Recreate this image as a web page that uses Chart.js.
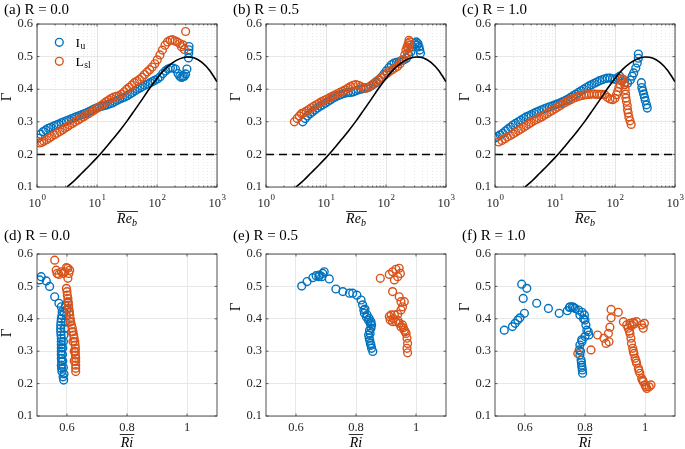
<!DOCTYPE html>
<html>
<head>
<meta charset="utf-8">
<script src="https://cdn.jsdelivr.net/npm/chart.js@4.4.0/dist/chart.umd.min.js"></script>
<style>
  body { margin: 0; background: #fff; }
  #fig { position: relative; width: 685px; height: 449px; overflow: hidden; background: #fff; }
  #fig canvas { position: absolute; }
</style>
</head>
<body>
<div id="fig">
  <canvas id="pa" width="230" height="228" style="left:0;top:0"></canvas>
  <canvas id="pb" width="230" height="228" style="left:229px;top:0"></canvas>
  <canvas id="pc" width="230" height="228" style="left:458px;top:0"></canvas>
  <canvas id="pd" width="230" height="224" style="left:0;top:225px"></canvas>
  <canvas id="pe" width="230" height="224" style="left:229px;top:225px"></canvas>
  <canvas id="pf" width="230" height="224" style="left:458px;top:225px"></canvas>
</div>
<script>
// axis ticks / reference values
const yTicks = [0.1, 0.2, 0.3, 0.4, 0.5, 0.6];
const decades = [1, 10, 100, 1000];
const riTicks = [0.6, 0.8, 1];
const refLevel = 0.2;

// black model curve, [Re_b, Gamma]
const curve = [[3.16,.10],[4.22,.12],[5.62,.143],[7.5,.166],[10,.19],[13.3,.216],[17.8,.244],[23.7,.272],[31.6,.302],[42.2,.335],[56.2,.368],[75,.402],[100,.433],[133,.46],[178,.48],[237,.493],[316,.499],[422,.496],[562,.482],[750,.458],[1000,.423]];

// (a) R = 0.0, [Re_b, Gamma]
const aIu = [[1.05,.25],[1.15,.262],[1.27,.27],[1.4,.275],[1.55,.28],[1.7,.283],[1.9,.287],[2.1,.29],[2.3,.293],[2.55,.297],[2.8,.30],[3.1,.303],[3.4,.306],[3.8,.31],[4.2,.313],[4.6,.316],[5.1,.319],[5.6,.322],[6.2,.325],[6.8,.328],[7.5,.332],[8.3,.336],[9.1,.34],[10,.343],[11,.346],[12.2,.348],[13.4,.35],[14.8,.352],[16.3,.355],[18,.358],[19.8,.362],[21.8,.366],[24,.37],[26.5,.373],[29,.376],[32,.38],[35.5,.385],[39,.39],[43,.395],[47,.40],[52,.404],[57,.408],[63,.412],[70,.416],[77,.42],[85,.424],[93,.428],[103,.432],[113,.438],[125,.448],[138,.456],[152,.462],[167,.465],[184,.465],[203,.462],[224,.448],[240,.44],[255,.436],[270,.438],[285,.44],[300,.447],[315,.462],[335,.496],[338,.511],[340,.521],[342,.531]];
const aLsl = [[1.1,.235],[1.2,.237],[1.3,.24],[1.45,.245],[1.6,.25],[1.75,.255],[1.95,.26],[2.15,.265],[2.4,.27],[2.65,.275],[2.9,.28],[3.2,.285],[3.5,.29],[3.9,.295],[4.3,.30],[4.8,.305],[5.3,.31],[5.9,.315],[6.5,.32],[7.2,.325],[8,.33],[8.8,.335],[9.7,.34],[10.7,.345],[11.8,.35],[13,.356],[14.3,.362],[15.8,.367],[17.4,.372],[19.2,.376],[21.2,.378],[23.4,.38],[25.8,.385],[28.5,.392],[31.4,.40],[34.6,.406],[38.2,.413],[42,.42],[46.4,.425],[51,.43],[56.3,.437],[62,.445],[68.5,.453],[75.5,.46],[83,.468],[92,.478],[101,.49],[112,.505],[123,.52],[136,.535],[150,.545],[165,.55],[180,.552],[198,.548],[218,.545],[240,.54],[255,.53],[270,.536],[285,.522],[300,.577]];

// (b) R = 0.5
const bIu = [[4.1,.30],[4.5,.31],[4.9,.318],[5.4,.325],[5.9,.33],[6.5,.336],[7.2,.342],[8,.348],[8.8,.352],[9.7,.357],[10.7,.362],[11.8,.367],[13,.372],[14.3,.376],[15.8,.38],[17.4,.383],[19.2,.386],[21.2,.388],[23.4,.39],[25.8,.39],[28.5,.392],[31.4,.395],[34.6,.398],[38.2,.40],[42,.402],[46.4,.404],[51,.406],[56.3,.41],[62,.415],[68.5,.42],[75.5,.428],[83,.436],[92,.446],[101,.456],[112,.466],[123,.475],[136,.48],[150,.482],[165,.484],[182,.488],[200,.49],[220,.495],[240,.505],[260,.515],[280,.53],[300,.54],[320,.545],[340,.54],[355,.53],[365,.52],[375,.51],[330,.535]];
const bLsl = [[2.97,.30],[3.3,.31],[3.6,.318],[3.9,.325],[4.3,.328],[4.7,.333],[5.2,.338],[5.7,.343],[6.3,.348],[7,.353],[7.7,.357],[8.5,.362],[9.4,.366],[10.4,.37],[11.5,.374],[12.7,.378],[14,.382],[15.5,.386],[17.1,.39],[19,.394],[21,.398],[23.2,.403],[25.6,.408],[28.3,.412],[31.3,.414],[34.6,.412],[38.2,.408],[42.2,.404],[46.6,.403],[51.5,.406],[57,.412],[63,.418],[69.6,.424],[77,.43],[85,.436],[94,.442],[104,.448],[115,.455],[127,.46],[140,.465],[155,.47],[171,.478],[189,.49],[205,.505],[215,.52],[225,.53],[235,.54],[242,.55],[248,.545],[238,.525],[228,.51],[245,.535]];

// (c) R = 1.0
const cIu = [[1.0,.25],[1.1,.255],[1.22,.26],[1.35,.265],[1.5,.272],[1.65,.278],[1.82,.284],[2.0,.29],[2.2,.295],[2.45,.30],[2.7,.305],[3.0,.31],[3.3,.315],[3.65,.318],[4.0,.322],[4.45,.326],[4.9,.33],[5.4,.333],[6.0,.337],[6.6,.34],[7.3,.343],[8.1,.346],[9.0,.349],[10,.352],[11,.355],[12.2,.358],[13.5,.362],[15,.366],[16.5,.37],[18.3,.375],[20.2,.38],[22.4,.385],[24.7,.39],[27.3,.395],[30.2,.40],[33.4,.405],[36.9,.41],[40.8,.414],[45.1,.418],[49.9,.422],[55.2,.426],[61,.429],[67.5,.432],[74.6,.434],[82.5,.434],[91.2,.432],[101,.43],[110,.435],[120,.44],[130,.425],[145,.42],[162,.418],[180,.428],[193,.44],[205,.45],[222,.465],[235,.48],[245,.495],[245,.508],[275,.42],[280,.405],[290,.395],[300,.385],[310,.375],[320,.365],[335,.352],[345,.342]];
const cLsl = [[1.15,.238],[1.3,.243],[1.45,.248],[1.6,.253],[1.8,.258],[2.0,.263],[2.2,.268],[2.45,.273],[2.7,.278],[3.0,.283],[3.3,.288],[3.65,.293],[4.0,.298],[4.45,.303],[4.9,.307],[5.4,.311],[6.0,.315],[6.6,.32],[7.3,.325],[8.1,.33],[9.0,.335],[10,.34],[11,.345],[12.2,.35],[13.5,.355],[15,.36],[16.5,.364],[18.3,.368],[20.2,.372],[22.4,.375],[24.7,.378],[27.3,.38],[30.2,.382],[33.4,.383],[36.9,.384],[40.8,.385],[45.1,.385],[49.9,.384],[55.2,.384],[61,.384],[67.5,.383],[74.6,.375],[82.5,.37],[91.2,.368],[100,.372],[106,.383],[111,.393],[116,.405],[122,.415],[128,.425],[130,.432],[138,.43],[145,.414],[148,.398],[150,.385],[152,.373],[155,.363],[160,.35],[162,.337],[166,.327],[170,.315],[178,.303],[186,.292]];

// (d) R = 0.0, [Ri, Gamma]
const dIu = [[.509,.52],[.514,.53],[.531,.517],[.542,.50],[.559,.468],[.573,.448],[.581,.437],[.584,.422],[.583,.41],[.581,.40],[.58,.39],[.579,.38],[.579,.37],[.579,.36],[.58,.35],[.581,.34],[.581,.33],[.581,.32],[.581,.31],[.581,.30],[.581,.29],[.581,.278],[.582,.268],[.581,.257],[.582,.247],[.583,.237],[.587,.221],[.589,.211],[.59,.23],[.588,.25],[.586,.27],[.585,.29],[.586,.31],[.588,.33],[.59,.35],[.592,.37],[.595,.39],[.598,.41],[.60,.43],[.602,.45],[.595,.44],[.59,.42]];
const dLsl = [[.559,.581],[.564,.55],[.567,.54],[.573,.537],[.581,.545],[.587,.54],[.592,.545],[.598,.558],[.603,.556],[.609,.55],[.606,.54],[.603,.525],[.598,.494],[.60,.484],[.601,.473],[.603,.463],[.603,.453],[.605,.442],[.606,.432],[.608,.422],[.609,.412],[.611,.40],[.612,.391],[.615,.381],[.618,.371],[.62,.36],[.622,.35],[.624,.34],[.626,.329],[.627,.319],[.628,.309],[.628,.298],[.628,.288],[.629,.278],[.629,.268],[.629,.257],[.629,.247],[.629,.237],[.624,.27],[.624,.30],[.62,.33],[.616,.36],[.61,.39],[.607,.42],[.604,.45]];

// (e) R = 0.5
const eIu = [[.619,.501],[.637,.515],[.656,.527],[.667,.533],[.676,.53],[.678,.535],[.686,.53],[.689,.54],[.694,.545],[.711,.523],[.733,.492],[.756,.484],[.778,.479],[.789,.479],[.803,.473],[.817,.458],[.822,.443],[.826,.427],[.828,.417],[.837,.412],[.844,.401],[.85,.391],[.852,.381],[.85,.371],[.847,.355],[.844,.34],[.848,.324],[.852,.309],[.856,.299],[.83,.43],[.835,.405],[.842,.395],[.848,.385],[.845,.365],[.842,.35],[.846,.333],[.85,.318]];
const eLsl = [[.881,.525],[.911,.537],[.922,.545],[.933,.553],[.944,.556],[.948,.54],[.939,.53],[.928,.52],[.922,.484],[.944,.468],[.95,.453],[.961,.453],[.955,.437],[.95,.427],[.939,.414],[.928,.412],[.917,.412],[.911,.407],[.914,.396],[.922,.391],[.933,.391],[.944,.386],[.955,.381],[.961,.365],[.967,.355],[.97,.34],[.972,.324],[.97,.309],[.972,.295],[.925,.40],[.94,.395],[.95,.375],[.958,.372],[.964,.36]];

// (f) R = 1.0
const fIu = [[.531,.365],[.558,.376],[.567,.386],[.576,.396],[.583,.403],[.598,.417],[.594,.463],[.589,.507],[.606,.494],[.639,.448],[.678,.432],[.714,.417],[.741,.425],[.75,.437],[.758,.437],[.767,.432],[.778,.427],[.783,.412],[.798,.412],[.80,.396],[.803,.381],[.806,.365],[.811,.36],[.813,.35],[.80,.345],[.789,.335],[.783,.319],[.781,.304],[.783,.288],[.787,.273],[.789,.257],[.791,.242],[.792,.232],[.748,.435],[.762,.435],[.79,.42],[.795,.40],[.79,.33],[.785,.30],[.788,.265],[.79,.25]];
const fLsl = [[.776,.293],[.82,.304],[.842,.35],[.863,.34],[.87,.324],[.878,.355],[.88,.329],[.883,.374],[.887,.403],[.887,.429],[.911,.42],[.928,.391],[.939,.381],[.95,.386],[.961,.389],[.972,.391],[.989,.381],[.998,.386],[.994,.371],[.944,.371],[.95,.355],[.953,.34],[.955,.324],[.959,.309],[.963,.293],[.967,.278],[.972,.263],[.978,.247],[.983,.232],[.989,.216],[.994,.206],[1.0,.196],[1.006,.185],[1.014,.19],[1.02,.196],[.957,.38],[.965,.385],[.948,.362],[.961,.3],[.97,.27],[.98,.24],[.992,.21],[1.003,.19]];

const BLUE = '#0072BD', ORANGE = '#D95319', AXIS = '#262626';
const SERIF = '"Liberation Serif", "Times New Roman", serif';

const toXY = arr => arr.map(p => ({ x: p[0], y: p[1] }));
const isDecade = v => Math.abs(Math.log10(v) - Math.round(Math.log10(v))) < 1e-9;

// all 1..9 x 10^n positions for the log grid
const logGrid = [];
for (let n = 0; n < 3; n++) for (let k = 1; k < 10; k++) logGrid.push(k * Math.pow(10, n));
logGrid.push(1000);

// box, inward ticks, titles, custom labels, legend
const decor = {
    id: 'decor',
    afterDraw(chart, args, o) {
        const ctx = chart.ctx, ca = chart.chartArea;
        const xs = chart.scales.x, ys = chart.scales.y;
        ctx.save();
        ctx.strokeStyle = AXIS;
        ctx.lineWidth = 0.7;
        ctx.beginPath();
        xs.ticks.forEach(t => {
            const px = xs.getPixelForValue(t.value);
            const len = (!o.log || isDecade(t.value)) ? 2.5 : 1.5;
            ctx.moveTo(px, ca.bottom); ctx.lineTo(px, ca.bottom - len);
            ctx.moveTo(px, ca.top); ctx.lineTo(px, ca.top + len);
        });
        ys.ticks.forEach(t => {
            const py = ys.getPixelForValue(t.value);
            ctx.moveTo(ca.left, py); ctx.lineTo(ca.left + 2.5, py);
            ctx.moveTo(ca.right, py); ctx.lineTo(ca.right - 2.5, py);
        });
        ctx.stroke();
        ctx.lineWidth = 0.8;
        ctx.strokeRect(ca.left, ca.top, ca.right - ca.left, ca.bottom - ca.top);

        ctx.fillStyle = '#000';
        ctx.textAlign = 'left';
        ctx.textBaseline = 'alphabetic';
        ctx.font = '15px ' + SERIF;
        ctx.fillText(o.title, 4, o.titleY);

        // y label
        ctx.save();
        ctx.translate(7, o.gy);
        ctx.rotate(-Math.PI / 2);
        ctx.textAlign = 'center';
        ctx.textBaseline = 'middle';
        ctx.fillText('Γ', 0, 0);
        ctx.restore();

        // log x tick labels 10^n
        if (o.log) {
            ctx.fillStyle = AXIS;
            decades.forEach(v => {
                const n = String(Math.round(Math.log10(v)));
                const px = xs.getPixelForValue(v);
                ctx.font = '12.5px ' + SERIF;
                const w1 = ctx.measureText('10').width;
                ctx.font = '9px ' + SERIF;
                const w2 = ctx.measureText(n).width;
                const x0 = px - (w1 + w2) / 2;
                ctx.font = '12.5px ' + SERIF;
                ctx.fillText('10', x0, 207);
                ctx.font = '9px ' + SERIF;
                ctx.fillText(n, x0 + w1 + 0.5, 200);
            });
        }

        // x label with overline
        const cx = (ca.left + ca.right) / 2;
        ctx.fillStyle = '#000';
        ctx.strokeStyle = '#000';
        ctx.lineWidth = 0.8;
        if (o.xlab === 're') {
            ctx.font = 'italic 14px ' + SERIF;
            const wRe = ctx.measureText('Re').width;
            ctx.font = 'italic 10px ' + SERIF;
            const wb = ctx.measureText('b').width;
            const x0 = cx - (wRe + wb) / 2;
            ctx.font = 'italic 14px ' + SERIF;
            ctx.fillText('Re', x0, 223);
            ctx.font = 'italic 10px ' + SERIF;
            ctx.fillText('b', x0 + wRe, 226);
            ctx.beginPath();
            ctx.moveTo(x0, 211.5); ctx.lineTo(x0 + wRe + wb + 1, 211.5);
            ctx.stroke();
        } else {
            ctx.font = 'italic 14px ' + SERIF;
            const w = ctx.measureText('Ri').width;
            const x0 = cx - w / 2;
            ctx.fillText('Ri', x0, 222);
            ctx.beginPath();
            ctx.moveTo(x0 - 1, 209.5); ctx.lineTo(x0 + w + 1, 209.5);
            ctx.stroke();
        }

        // legend (panel a only)
        if (o.legend) {
            ctx.lineWidth = 1.4;
            [[BLUE, 42.3, 'I', 'u'], [ORANGE, 61.3, 'L', 'sl']].forEach(([c, y, t, s]) => {
                ctx.strokeStyle = c;
                ctx.beginPath();
                ctx.arc(59.3, y, 3.9, 0, Math.PI * 2);
                ctx.stroke();
                ctx.fillStyle = '#000';
                ctx.font = '13.5px ' + SERIF;
                ctx.fillText(t, 75.5, y + 4.3);
                const w = ctx.measureText(t).width;
                ctx.font = '9.5px ' + SERIF;
                ctx.fillText(s, 75.5 + w + 0.5, y + 6.3);
            });
        }
        ctx.restore();
    }
};

function marker(pts, color) {
    return {
        data: toXY(pts),
        showLine: false,
        pointStyle: 'circle',
        pointRadius: 3.9,
        pointBorderWidth: 1.4,
        pointBorderColor: color,
        pointBackgroundColor: 'rgba(0,0,0,0)',
        borderColor: color
    };
}

const tickFont = { family: SERIF, size: 12.5 };

function makeChart(id, o) {
    const top = o.log;
    const ds = [];
    if (top) {
        ds.push({ data: toXY(curve), showLine: true, borderColor: '#000', borderWidth: 1.6,
                  pointRadius: 0, cubicInterpolationMode: 'monotone' });
        ds.push({ data: [{ x: 1, y: refLevel }, { x: 1000, y: refLevel }], showLine: true,
                  borderColor: '#000', borderWidth: 1.5, borderDash: [8, 5], pointRadius: 0 });
    }
    ds.push(marker(o.lsl, ORANGE));
    ds.push(marker(o.iu, BLUE));

    const xScale = top ? {
        type: 'logarithmic', min: 1, max: 1000,
        afterBuildTicks: s => { s.ticks = logGrid.map(v => ({ value: v })); },
        ticks: { display: false },
        grid: { drawTicks: false, lineWidth: 0.8,
                color: c => (c.tick && !isDecade(c.tick.value)) ? '#e4e4e4' : '#dddddd' },
        border: { display: false, dash: c => (c.tick && !isDecade(c.tick.value)) ? [1, 2] : [] },
        afterFit: s => { s.height = 41; }
    } : {
        type: 'linear', min: 0.5, max: 1.1,
        afterBuildTicks: s => { s.ticks = riTicks.map(v => ({ value: v })); },
        ticks: { font: tickFont, color: AXIS, padding: 4, autoSkip: false, maxRotation: 0,
                 callback: v => v === 1 ? '1' : v.toFixed(1) },
        grid: { drawTicks: false, lineWidth: 0.8, color: '#e2e2e2' },
        border: { display: false },
        afterFit: s => { s.height = 33; }
    };

    new Chart(document.getElementById(id), {
        type: 'scatter',
        data: { datasets: ds },
        options: {
            responsive: false,
            animation: false,
            devicePixelRatio: 1,
            layout: { padding: { top: top ? 24 : 29, left: 0, right: 13, bottom: 0 } },
            scales: {
                x: xScale,
                y: {
                    type: 'linear', min: 0.1, max: 0.6,
                    afterBuildTicks: s => { s.ticks = yTicks.map(v => ({ value: v })); },
                    ticks: { font: tickFont, color: AXIS, padding: 4, callback: v => v.toFixed(1) },
                    grid: { drawTicks: false, lineWidth: 0.8, color: '#e2e2e2' },
                    border: { display: false },
                    afterFit: s => { s.width = 37; }
                }
            },
            plugins: {
                legend: { display: false },
                tooltip: { enabled: false },
                decor: o
            }
        },
        plugins: [decor]
    });
}

makeChart('pa', { log: true, iu: aIu, lsl: aLsl, title: '(a) R = 0.0', titleY: 13.5, gy: 97, xlab: 're', legend: true });
makeChart('pb', { log: true, iu: bIu, lsl: bLsl, title: '(b) R = 0.5', titleY: 13.5, gy: 97, xlab: 're' });
makeChart('pc', { log: true, iu: cIu, lsl: cLsl, title: '(c) R = 1.0', titleY: 13.5, gy: 97, xlab: 're' });
makeChart('pd', { log: false, iu: dIu, lsl: dLsl, title: '(d) R = 0.0', titleY: 15, gy: 108, xlab: 'ri' });
makeChart('pe', { log: false, iu: eIu, lsl: eLsl, title: '(e) R = 0.5', titleY: 15, gy: 82, xlab: 'ri' });
makeChart('pf', { log: false, iu: fIu, lsl: fLsl, title: '(f) R = 1.0', titleY: 15, gy: 82, xlab: 'ri' });
</script>
</body>
</html>
